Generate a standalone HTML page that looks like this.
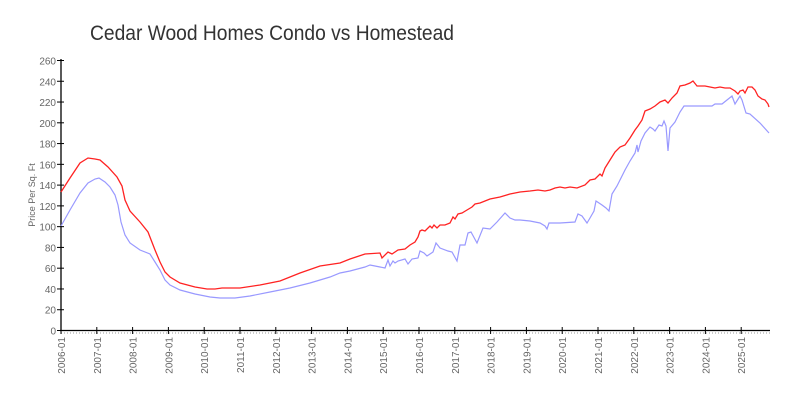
<!DOCTYPE html>
<html><head><meta charset="utf-8"><style>
body{margin:0;background:#fff;}
svg{display:block;font-family:"Liberation Sans",sans-serif;}
</style></head><body>
<svg width="800" height="400" xmlns="http://www.w3.org/2000/svg">
<text x="90" y="40" font-size="21" fill="#333" textLength="364" lengthAdjust="spacingAndGlyphs">Cedar Wood Homes Condo vs Homestead</text>
<text transform="translate(35,195) rotate(-90)" text-anchor="middle" font-size="9" fill="#666">Price Per Sq. Ft</text>
<line x1="61" y1="333" x2="770" y2="333" stroke="#ccc" stroke-dasharray="1,2" stroke-width="2"/>
<line x1="61" y1="59" x2="61" y2="331" stroke="#000" stroke-width="1.3"/>
<line x1="60" y1="330.5" x2="770" y2="330.5" stroke="#000" stroke-width="1.3"/>
<g font-size="10" fill="#666" text-anchor="end" id="yl"></g>
<g font-size="10" fill="#666" id="xl"></g>
<polyline fill="none" stroke="#9999ff" stroke-width="1.2" points="61,226 70,210 80,193 88,183 95,179 99,178 105,182 110,187 115,195 118,205 121,222 125,235 130,243 140,250 150,254 155,262 160,270 165,280 170,285 180,290 195,294 210,297 220,298 235,298 250,296 270,292 290,288 310,283 330,277 340,273 350,271 365,267 370,265 375,266 380,267 385,268 388,260 390,266 393,261 395,263 398,261 405,259 408,264 412,259 418,258 420,251 424,253 427,256 433,252 436,243 440,248 448,251 452,252 457,261 460,245 465,245 468,233 471,232 477,243 483,228 490,229 497,222 505,213 510,218 515,220 520,220 530,221 540,223 545,226 547,229 549,223 560,223 575,222 578,214 582,216 587,223 590,218 594,211 596,201 602,205 606,208 609,211 612,194 617,186 621,178 625,170 630,161 635,153 637,145 638,152 641,141 645,133 650,127 653,129 655,131 659,125 662,126 664,121 666,126 668,151 670,128 675,122 680,112 684,106 700,106 712,106 715,104 722,104 727,100 732,96 735,104 740,96 742,100 746,113 750,114 760,123 769,133"/>
<polyline fill="none" stroke="#ff2222" stroke-width="1.3" points="61,192 70,178 80,163 88,158 95,159 100,160 108,167 117,177 122,186 125,200 130,211 140,222 148,232 155,250 160,262 165,272 170,277 180,283 195,287 207,289 215,289 222,288 240,288 260,285 280,281 300,273 320,266 340,263 350,259 365,254 380,253 382,258 388,252 392,254 398,250 405,249 410,245 415,242 418,237 420,231 422,230 425,231 428,228 430,226 432,228 434,225 437,228 440,225 445,225 450,223 453,217 455,219 458,214 462,213 467,210 472,207 475,204 480,203 485,201 490,199 500,197 510,194 520,192 530,191 538,190 545,191 550,190 555,188 560,187 565,188 570,187 577,188 585,185 590,180 595,179 600,174 602,176 605,168 610,160 615,152 620,147 625,145 630,138 635,130 638,126 642,120 645,111 650,109 655,106 660,102 665,100 668,103 672,98 677,93 680,86 685,85 690,83 693,81 697,86 705,86 710,87 715,88 720,87 725,88 730,88 735,91 738,94 740,91 743,90 745,93 748,87 752,87 755,90 758,96 762,99 765,100 768,104 769,107"/>
<g id="yt" stroke="#000" stroke-width="1"></g>
</svg>
<script>
var ns="http://www.w3.org/2000/svg",yl=document.getElementById('yl'),xl=document.getElementById('xl'),yt=document.getElementById('yt');
for(var v=0;v<=260;v+=20){var y=330.5-v*1.0385;
var t=document.createElementNS(ns,'text');t.setAttribute('x',56);t.setAttribute('y',y+4);t.textContent=v;yl.appendChild(t);
var l=document.createElementNS(ns,'line');l.setAttribute('x1',57);l.setAttribute('x2',64);l.setAttribute('y1',y);l.setAttribute('y2',y);yt.appendChild(l);}
for(var i=0;i<20;i++){var x=61+i*35.8;
var l=document.createElementNS(ns,'line');l.setAttribute('x1',x);l.setAttribute('x2',x);l.setAttribute('y1',327);l.setAttribute('y2',334);yt.appendChild(l);
var t=document.createElementNS(ns,'text');t.setAttribute('transform','translate('+(x+4)+',337) rotate(-90)');t.setAttribute('text-anchor','end');t.textContent=(2006+i)+'-01';xl.appendChild(t);}
</script>
</body></html>
